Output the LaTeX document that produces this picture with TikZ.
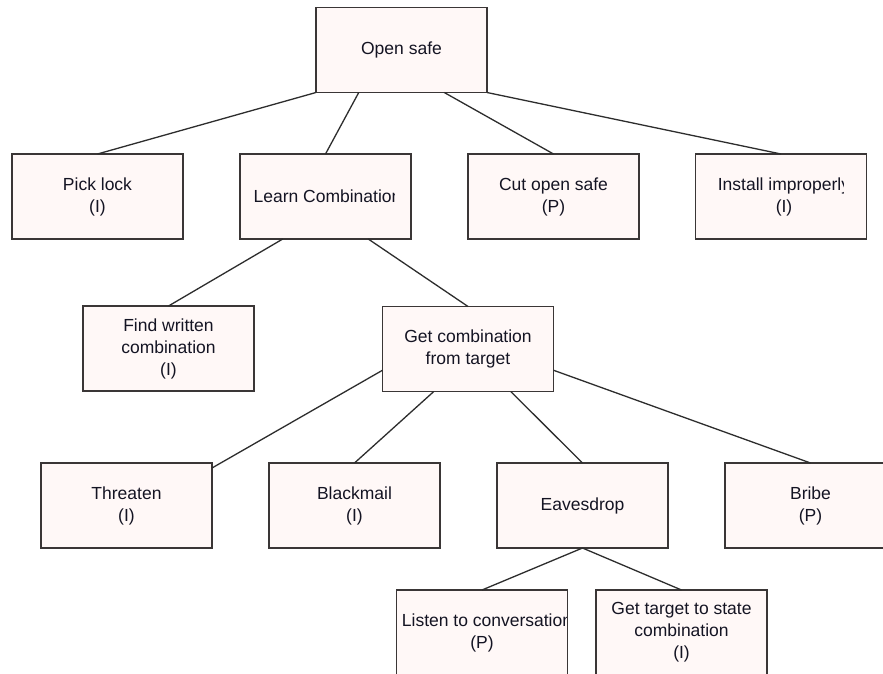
\documentclass[tikz,border=0pt]{standalone}
\usepackage{fontspec}
\setmainfont{Liberation Sans}
\usetikzlibrary{calc}
\definecolor{boxfill}{RGB}{255,248,247}
\definecolor{boxline}{RGB}{58,54,54}
\definecolor{linkline}{RGB}{45,45,45}
\definecolor{labeltext}{RGB}{20,20,35}
\begin{document}
\begin{tikzpicture}[x=1pt,y=-1pt,
  treebox/.style={draw=boxline, fill=boxfill, line width=1.5pt,
    minimum width=171pt, minimum height=85pt, inner sep=0pt, outer sep=0pt},
  boxlabel/.style={text=labeltext, align=center,
    font=\fontsize{17.5}{22}\selectfont, inner sep=0pt},
  link/.style={draw=linkline, line width=1.3pt}]
\fill[white] (0,0) rectangle (883,674);
\useasboundingbox (0,0) rectangle (883,674);

% root
\node[treebox, boxlabel] (open) at (401.5,50) {Open safe};

% first level
\node[treebox, boxlabel] (pick) at (97.5,196.5) {Pick lock\\(I)};
\node[treebox] (learn) at (325.5,196.5) {};
\begin{scope}
  \clip (learn.north west) rectangle ([xshift=-17pt]learn.south east);
  \node[boxlabel] (learntext) at ([xshift=2pt]learn.center) {Learn Combination};
\end{scope}
\node[treebox, boxlabel] (cut) at (553.5,196.5) {Cut open safe\\(P)};
\node[treebox] (install) at (781,196.5) {};
\begin{scope}
  \clip (install.north west) rectangle ([xshift=-23pt]install.south east);
  \node[boxlabel] (installtext) at ([xshift=3pt]install.center) {Install improperly\\(I)};
\end{scope}

% second level
\node[treebox, boxlabel] (find) at (168.5,348.5) {Find written\\combination\\(I)};
\node[treebox, boxlabel] (getc) at (468,349) {Get combination\\from target};

% third level
\node[treebox, boxlabel] (threaten) at (126.5,505.5) {Threaten\\(I)};
\node[treebox, boxlabel] (blackmail) at (354.5,505.5) {Blackmail\\(I)};
\node[treebox, boxlabel] (eaves) at (582.5,505.5) {Eavesdrop};
\node[treebox, boxlabel] (bribe) at (810.5,505.5) {Bribe\\(P)};

% fourth level
\node[treebox] (listen) at (482,632.5) {};
\begin{scope}
  \clip (listen.north west) rectangle ([xshift=-1pt]listen.south east);
  \node[boxlabel] (listentext) at ([xshift=5pt]listen.center) {Listen to conversation\\\hspace*{-10pt}(P)};
\end{scope}
\node[treebox, boxlabel] (gett) at (681.5,632.5) {Get target to state\\combination\\(I)};

% connectors
\draw[link] (open.south west) -- (pick.north);
\draw[link] ($(open.south west)!0.25!(open.south east)$) -- (learn.north);
\draw[link] ($(open.south west)!0.75!(open.south east)$) -- (cut.north);
\draw[link] (open.south east) -- (install.north);
\draw[link] ($(learn.south west)!0.25!(learn.south east)$) -- (find.north);
\draw[link] ($(learn.south west)!0.75!(learn.south east)$) -- (getc.north);
\draw[link] ($(getc.south west)!0.25!(getc.north west)$) -- ($(threaten.north east)+(0,5)$);
\draw[link] ($(getc.south west)!0.3!(getc.south east)$) -- (blackmail.north);
\draw[link] ($(getc.south west)!0.75!(getc.south east)$) -- (eaves.north);
\draw[link] ($(getc.south east)!0.25!(getc.north east)$) -- (bribe.north);
\draw[link] (eaves.south) -- (listen.north);
\draw[link] (eaves.south) -- (gett.north);
\end{tikzpicture}
\end{document}
